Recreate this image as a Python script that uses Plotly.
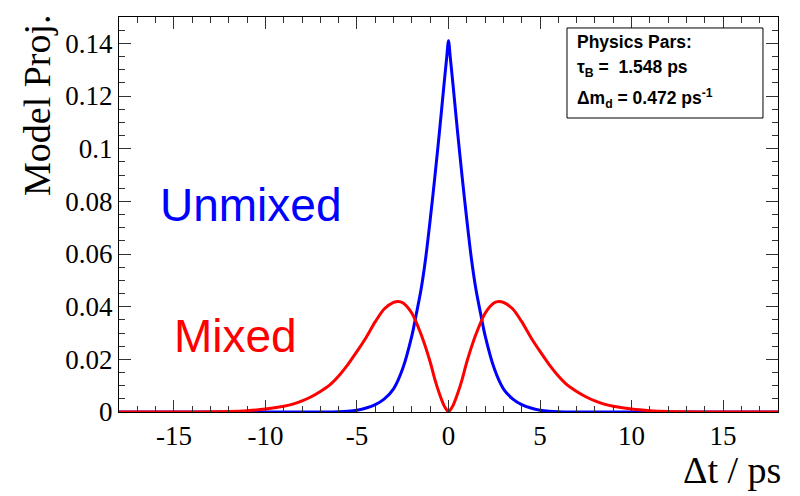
import plotly.graph_objects as go

# Unmixed curve (blue)
t_unmixed = [-18, -15, -12, -10, -8, -7, -6, -5.5, -5, -4.5, -4, -3.5, -3, -2.5, -2,
             -1.75, -1.5, -1.25, -1, -0.75, -0.5, -0.25, -0.1, 0,
             0.1, 0.25, 0.5, 0.75, 1, 1.25, 1.5, 1.75, 2, 2.5, 3, 3.5, 4, 4.5, 5,
             5.5, 6, 7, 8, 10, 12, 15, 18]
unmixed = [0, 0, 0, 0, 0, 0, 0.0001, 0.0003, 0.0007, 0.0015, 0.0028, 0.0050, 0.0088, 0.0165, 0.029,
           0.0375, 0.0465, 0.0583, 0.073, 0.089, 0.106, 0.124, 0.1345, 0.141,
           0.1345, 0.124, 0.106, 0.089, 0.073, 0.0583, 0.0465, 0.0375, 0.029, 0.0165, 0.0088, 0.0050, 0.0028, 0.0015, 0.0007,
           0.0003, 0.0001, 0, 0, 0, 0, 0, 0]

# Mixed curve (red)
t_mixed = [-18, -16, -14, -13, -12, -11, -10, -9, -8.5, -8, -7.5, -7, -6.5, -6, -5.5, -5,
           -4.5, -4, -3.5, -3, -2.75, -2.5, -2, -1.5, -1, -0.75, -0.5, -0.25, -0.08, 0,
           0.08, 0.25, 0.5, 0.75, 1, 1.5, 2, 2.5, 2.75, 3, 3.5, 4, 4.5, 5, 5.5, 6, 6.5,
           7, 7.5, 8, 8.5, 9, 10, 11, 12, 13, 14, 16, 18]
mixed = [0, 0, 0, 0.0001, 0.0002, 0.0005, 0.0011, 0.0022, 0.003, 0.0042, 0.0058, 0.0078, 0.0102, 0.0137, 0.018, 0.023,
         0.0283, 0.0343, 0.0392, 0.0416, 0.042, 0.0415, 0.0375, 0.0295, 0.019, 0.0125, 0.007, 0.0025, 0.0006, 0,
         0.0006, 0.0025, 0.007, 0.0125, 0.019, 0.0295, 0.0375, 0.0415, 0.042, 0.0416, 0.0392, 0.0343, 0.0283, 0.023, 0.018, 0.0137, 0.0102,
         0.0078, 0.0058, 0.0042, 0.003, 0.0022, 0.0011, 0.0005, 0.0002, 0.0001, 0, 0, 0]

x_tickvals = [-15, -10, -5, 0, 5, 10, 15]
x_ticktext = ["-15", "-10", "-5", "0", "5", "10", "15"]
y_tickvals = [0, 0.02, 0.04, 0.06, 0.08, 0.1, 0.12, 0.14]
y_ticktext = ["0", "0.02", "0.04", "0.06", "0.08", "0.1", "0.12", "0.14"]

fig = go.Figure()
fig.add_trace(go.Scatter(x=t_unmixed, y=unmixed, mode="lines",
                         line=dict(color="#0000ff", width=3, shape="spline", smoothing=0.8),
                         showlegend=False))
fig.add_trace(go.Scatter(x=t_mixed, y=mixed, mode="lines",
                         line=dict(color="#ff0000", width=3, shape="spline", smoothing=0.8),
                         showlegend=False))

serif = "Liberation Serif, Times New Roman, serif"
sans = "Liberation Sans, Arial, sans-serif"

fig.update_layout(
    width=800, height=496,
    margin=dict(l=119, r=22, t=17, b=84),
    paper_bgcolor="white", plot_bgcolor="white",
    xaxis=dict(range=[-18, 18], showgrid=False, zeroline=False,
               showline=True, linecolor="black", linewidth=1, mirror="allticks",
               ticks="inside", ticklen=12, tickcolor="#333", tickwidth=1,
               tickvals=x_tickvals, ticktext=x_ticktext,
               tickfont=dict(family=serif, size=27, color="black"),
               minor=dict(dtick=1, ticks="inside", ticklen=6, tickcolor="#333", showgrid=False)),
    yaxis=dict(range=[0, 0.15], showgrid=False, zeroline=False,
               showline=True, linecolor="black", linewidth=1, mirror="allticks",
               ticks="inside", ticklen=12, tickcolor="#333", tickwidth=1,
               tickvals=y_tickvals, ticktext=y_ticktext,
               tickfont=dict(family=serif, size=27, color="black"),
               minor=dict(dtick=0.005, ticks="inside", ticklen=6, tickcolor="#333", showgrid=False)),
)

# Axis titles
fig.add_annotation(text="Model Proj.", xref="paper", yref="paper",
                   x=-0.1244, y=1.0127, xanchor="center", yanchor="top",
                   textangle=-90, showarrow=False,
                   font=dict(family=serif, size=38, color="black"))
fig.add_annotation(text="Δt / ps", xref="paper", yref="paper",
                   x=1.0076, y=-0.148, xanchor="right", yanchor="middle",
                   showarrow=False, font=dict(family=serif, size=38, color="black"))

# Curve labels
fig.add_annotation(text="Unmixed", xref="x", yref="y", x=-15.85, y=0.0785,
                   xanchor="left", yanchor="middle", showarrow=False,
                   font=dict(family=sans, size=46, color="#0000ff"))
fig.add_annotation(text="Mixed", xref="x", yref="y", x=-15.1, y=0.0288,
                   xanchor="left", yanchor="middle", showarrow=False,
                   font=dict(family=sans, size=46, color="#ff0000"))

# Parameter box
fig.add_shape(type="rect", xref="paper", yref="paper",
              x0=0.6798, x1=0.9772, y0=0.7443, y1=0.9722,
              line=dict(color="black", width=1), fillcolor="white", layer="above")
box_lines = ["<b>Physics Pars:</b>",
             "<b>τ<sub>B</sub> =  1.548 ps</b>",
             "<b>Δm<sub>d</sub> = 0.472 ps<sup>-1</sup></b>"]
box_y = [0.9375, 0.8701, 0.7942]
for txt, yy in zip(box_lines, box_y):
    fig.add_annotation(text=txt, xref="paper", yref="paper", x=0.6925, y=yy,
                       xanchor="left", yanchor="middle", showarrow=False,
                       font=dict(family=sans, size=17.5, color="black"))

fig.write_html("out.html")
